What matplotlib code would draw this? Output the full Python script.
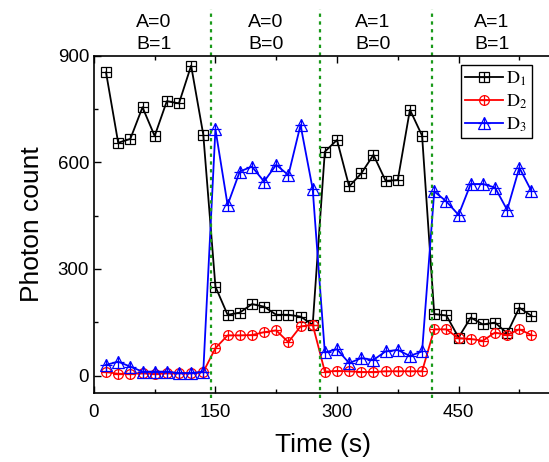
import matplotlib
matplotlib.use("Agg")
import matplotlib.pyplot as plt

plt.rcParams['font.family'] = ['Liberation Sans', 'DejaVu Sans']
plt.rcParams['mathtext.fontset'] = 'stix'

# time points (s), every 15 s
time = [15, 30, 45, 60, 75, 90, 105, 120, 135,
        150, 165, 180, 195, 210, 225, 240, 255, 270,
        285, 300, 315, 330, 345, 360, 375, 390, 405,
        420, 435, 450, 465, 480, 495, 510, 525, 540]

d1 = [853, 655, 666, 755, 674, 772, 766, 872, 678,
      250, 171, 177, 201, 194, 171, 171, 166, 143,
      630, 663, 532, 569, 621, 548, 550, 748, 675,
      173, 169, 107, 163, 144, 149, 119, 191, 168]

d2 = [10, 5, 5, 6, 5, 6, 6, 6, 10,
      77, 113, 113, 114, 122, 127, 94, 138, 143,
      11, 13, 12, 10, 10, 12, 12, 12, 12,
      130, 130, 105, 103, 98, 121, 114, 130, 114]

d3 = [30, 39, 25, 11, 11, 11, 7, 7, 11,
      693, 480, 574, 588, 546, 593, 564, 705, 525,
      65, 74, 35, 49, 44, 68, 72, 55, 68,
      518, 490, 452, 539, 539, 529, 466, 585, 519]

# boundaries between input states and their labels
boundaries = [145, 279, 417]
state_x = [74, 212, 344, 491]
state_labels = ['A=0\nB=1', 'A=0\nB=0', 'A=1\nB=0', 'A=1\nB=1']

fig = plt.figure(figsize=(5.49, 4.62), dpi=100)
ax = fig.add_axes([0.171, 0.1487, 0.834, 0.7307])

series = [(d1, 'black', 's', 6.5, r'$\mathrm{D_1}$'),
          (d2, 'red', 'o', 7.0, r'$\mathrm{D_2}$'),
          (d3, 'blue', '^', 9.0, r'$\mathrm{D_3}$')]

handles = []
labels = []
for ys, c, m, ms, lab in series:
    ln, = ax.plot(time, ys, color=c, lw=1.3, marker=m, ms=ms,
                  mfc='none', mec=c, mew=0.9)
    pl, = ax.plot(time, ys, ls='none', marker='+', ms=ms, mec=c, mew=0.9)
    handles.append((ln, pl))
    labels.append(lab)

for b in boundaries:
    ax.axvline(b, ymin=-0.015, ymax=1.138, color='#1a9a1a', lw=1.6,
               ls=(0, (1.5, 2)), clip_on=False)

for x, t in zip(state_x, state_labels):
    ax.text(x, 1.008, t, transform=ax.get_xaxis_transform(), ha='center',
            va='bottom', fontsize=14, linespacing=1.4)

ax.set_xlim(0, 565)
ax.set_ylim(-50, 900)
ax.set_xticks([0, 150, 300, 450])
ax.set_xticks([75, 225, 375, 525], minor=True)
ax.set_yticks([0, 300, 600, 900])
ax.set_yticks([150, 450, 750], minor=True)
ax.tick_params(which='both', direction='in', top=True, labelsize=13.5, width=1)
ax.tick_params(which='major', length=5)
ax.tick_params(which='minor', length=3)
ax.tick_params(axis='x', pad=8)
for s in ax.spines.values():
    s.set_linewidth(1.2)

ax.set_xlabel('Time (s)', fontsize=19, labelpad=8)
ax.set_ylabel('Photon count', fontsize=19, labelpad=10)

leg = ax.legend(handles, labels, loc='upper right',
                bbox_to_anchor=(0.956, 0.972), borderaxespad=0,
                fontsize=13, handlelength=2.1, handletextpad=0.15,
                labelspacing=0.25, borderpad=0.25, fancybox=False,
                edgecolor='black', framealpha=1)
leg.get_frame().set_linewidth(1.0)

fig.savefig('out.png', dpi=100)
